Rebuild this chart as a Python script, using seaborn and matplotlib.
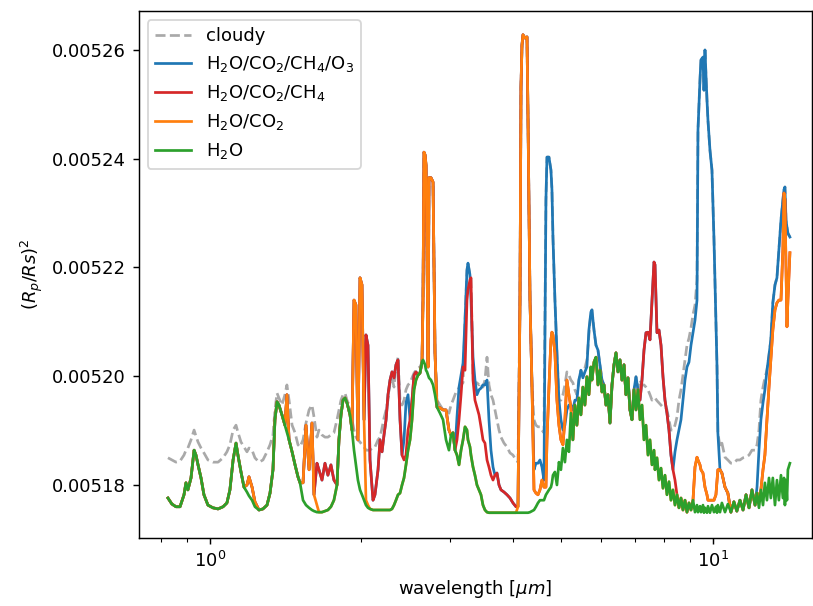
import numpy as np
import matplotlib
matplotlib.use("Agg")
import matplotlib.pyplot as plt
import seaborn as sns

# wavelength grid [micron]
wavelength = [
    0.826, 0.841, 0.857, 0.873, 0.889, 0.897, 0.905, 0.918, 0.931, 0.939,
    0.948, 0.961, 0.974, 0.992, 1.015, 1.039, 1.063, 1.082, 1.097, 1.113,
    1.128, 1.138, 1.154, 1.170, 1.186, 1.197, 1.214, 1.230, 1.253, 1.276,
    1.300, 1.318, 1.336, 1.348, 1.361, 1.373, 1.392, 1.411, 1.424, 1.438,
    1.458, 1.478, 1.498, 1.512, 1.533, 1.554, 1.576, 1.597, 1.612, 1.634,
    1.649, 1.672, 1.695, 1.718, 1.742, 1.766, 1.791, 1.807, 1.824, 1.841,
    1.858, 1.875, 1.901, 1.918, 1.936, 1.953, 1.971, 1.990, 2.008, 2.027,
    2.045, 2.064, 2.083, 2.112, 2.131, 2.161, 2.181, 2.201, 2.221, 2.242,
    2.262, 2.283, 2.304, 2.325, 2.346, 2.368, 2.390, 2.412, 2.434, 2.456,
    2.479, 2.502, 2.525, 2.548, 2.571, 2.595, 2.619, 2.643, 2.655, 2.667,
    2.680, 2.692, 2.704, 2.717, 2.729, 2.754, 2.780, 2.805, 2.831, 2.870,
    2.910, 2.950, 2.990, 3.018, 3.046, 3.074, 3.102, 3.131, 3.160, 3.189,
    3.218, 3.247, 3.262, 3.292, 3.307, 3.338, 3.368, 3.399, 3.431, 3.462,
    3.494, 3.526, 3.559, 3.591, 3.624, 3.658, 3.691, 3.725, 3.760, 3.794,
    3.847, 3.900, 3.954, 4.008, 4.064, 4.101, 4.139, 4.158, 4.177, 4.196,
    4.235, 4.274, 4.294, 4.333, 4.373, 4.413, 4.453, 4.494, 4.535, 4.577,
    4.619, 4.661, 4.683, 4.726, 4.769, 4.791, 4.813, 4.857, 4.902, 4.947,
    4.992, 5.038, 5.084, 5.131, 5.178, 5.225, 5.273, 5.322, 5.371, 5.420,
    5.470, 5.520, 5.571, 5.622, 5.674, 5.726, 5.754, 5.808, 5.861, 5.915,
    5.969, 6.024, 6.080, 6.136, 6.192, 6.249, 6.307, 6.365, 6.423, 6.482,
    6.542, 6.602, 6.663, 6.724, 6.786, 6.848, 6.911, 6.975, 7.039, 7.104,
    7.169, 7.235, 7.302, 7.369, 7.437, 7.505, 7.574, 7.644, 7.679, 7.749,
    7.821, 7.893, 7.965, 8.038, 8.112, 8.187, 8.262, 8.338, 8.415, 8.492,
    8.570, 8.649, 8.729, 8.809, 8.890, 8.972, 9.054, 9.138, 9.222, 9.307,
    9.349, 9.435, 9.478, 9.565, 9.609, 9.653, 9.742, 9.786, 9.876, 9.967,
    10.06, 10.15, 10.20, 10.24, 10.34, 10.43, 10.58, 10.72, 10.87, 11.02,
    11.17, 11.33, 11.49, 11.65, 11.81, 11.97, 12.14, 12.25, 12.36, 12.47,
    12.59, 12.70, 12.82, 12.94, 13.05, 13.17, 13.30, 13.42, 13.54, 13.67,
    13.79, 13.86, 13.92, 13.99, 14.05, 14.11, 14.24,
]

# transit depths in ppm, one list per model
cloudy = [
    5185.0, 5184.6, 5184.2, 5184.4, 5185.5, 5186.4, 5186.8, 5188.3, 5190.1, 5189.0,
    5187.9, 5186.8, 5185.9, 5184.6, 5184.2, 5184.2, 5185.0, 5186.1, 5187.4, 5190.1,
    5191.0, 5189.7, 5187.9, 5187.0, 5186.1, 5186.8, 5186.4, 5185.0, 5184.2, 5184.6,
    5186.1, 5187.4, 5189.2, 5193.8, 5196.9, 5196.0, 5194.7, 5196.6, 5198.4, 5195.6,
    5191.0, 5189.6, 5187.4, 5187.0, 5188.3, 5191.4, 5193.8, 5194.7, 5192.5, 5188.8,
    5190.1, 5189.2, 5188.8, 5188.8, 5189.2, 5189.6, 5192.0, 5193.8, 5195.6, 5196.6,
    5196.9, 5195.6, 5194.3, 5192.0, 5190.1, 5188.8, 5188.3, 5187.9, 5187.4, 5187.0,
    5186.4, 5186.4, 5186.4, 5187.0, 5187.0, 5188.3, 5188.8, 5190.5, 5192.3, 5193.8,
    5195.6, 5198.8, 5199.7, 5198.0, 5201.5, 5203.5, 5195.6, 5194.7, 5195.6, 5197.5,
    5198.4, 5198.8, 5199.7, 5200.6, 5201.1, 5201.5, 5201.7, 5202.6, 5214.0, 5241.2,
    5240.7, 5238.9, 5223.2, 5201.7, 5236.5, 5236.5, 5235.7, 5204.3, 5195.6, 5194.7,
    5193.8, 5193.4, 5193.2, 5194.7, 5195.6, 5196.6, 5197.5, 5197.8, 5198.4, 5198.8,
    5210.3, 5219.5, 5220.8, 5218.6, 5218.1, 5200.2, 5198.8, 5198.8, 5198.4, 5198.8,
    5198.0, 5199.3, 5203.5, 5198.4, 5196.6, 5195.6, 5193.8, 5192.0, 5190.1, 5188.8,
    5187.7, 5187.0, 5185.9, 5185.5, 5184.6, 5184.2, 5214.0, 5253.2, 5260.9, 5262.8,
    5262.2, 5262.4, 5247.1, 5214.0, 5198.0, 5192.0, 5191.0, 5190.7, 5190.7, 5190.1,
    5189.6, 5232.4, 5240.3, 5240.3, 5237.9, 5234.3, 5225.6, 5214.0, 5204.3, 5195.6,
    5195.6, 5196.6, 5198.4, 5200.8, 5200.2, 5199.3, 5198.8, 5197.5, 5196.6, 5199.3,
    5201.1, 5200.2, 5201.5, 5203.0, 5207.6, 5211.8, 5212.2, 5208.5, 5205.7, 5204.8,
    5202.0, 5199.3, 5198.4, 5194.7, 5196.6, 5191.4, 5198.4, 5202.1, 5204.3, 5200.8,
    5203.0, 5199.3, 5202.1, 5196.6, 5199.7, 5193.8, 5192.0, 5197.5, 5199.9, 5197.5,
    5199.3, 5198.4, 5198.4, 5198.0, 5197.5, 5196.6, 5195.6, 5196.0, 5196.0, 5195.5,
    5195.1, 5194.7, 5194.3, 5194.3, 5193.8, 5192.0, 5190.1, 5190.1, 5191.0, 5192.5,
    5195.6, 5197.5, 5200.2, 5203.0, 5205.7, 5207.0, 5208.9, 5211.3, 5213.1, 5217.7,
    5245.3, 5254.5, 5258.2, 5258.7, 5252.6, 5260.0, 5250.8, 5247.1, 5241.6, 5237.9,
    5225.1, 5210.3, 5201.7, 5189.6, 5187.0, 5187.7, 5185.1, 5184.6, 5184.0, 5184.0,
    5184.6, 5184.6, 5185.0, 5185.1, 5185.5, 5186.4, 5186.4, 5187.4, 5190.1, 5195.6,
    5198.0, 5199.7, 5201.1, 5203.9, 5206.7, 5213.5, 5216.8, 5218.1, 5223.2, 5228.7,
    5232.4, 5234.3, 5234.8, 5228.7, 5227.4, 5226.3, 5225.6,
]

h2o_co2_ch4_o3 = [
    5177.6, 5176.5, 5176.0, 5176.0, 5178.2, 5180.4, 5179.1, 5181.3, 5186.4, 5185.5,
    5183.7, 5181.3, 5178.2, 5176.3, 5175.8, 5175.6, 5176.0, 5176.7, 5179.1, 5184.6,
    5187.7, 5185.5, 5182.4, 5179.6, 5180.0, 5181.5, 5179.6, 5176.9, 5175.4, 5175.6,
    5176.3, 5178.5, 5182.8, 5192.0, 5195.3, 5194.7, 5192.9, 5191.0, 5196.6, 5188.3,
    5186.1, 5183.7, 5181.5, 5180.4, 5180.4, 5191.0, 5182.8, 5191.4, 5178.2, 5184.0,
    5182.8, 5180.9, 5184.0, 5181.8, 5183.7, 5180.9, 5180.0, 5188.3, 5192.9, 5195.6,
    5196.0, 5195.1, 5192.9, 5190.1, 5214.0, 5213.1, 5188.3, 5218.1, 5216.8, 5192.0,
    5207.6, 5205.7, 5184.6, 5177.2, 5178.2, 5182.8, 5188.3, 5186.1, 5189.2, 5192.0,
    5196.6, 5199.3, 5200.8, 5199.7, 5202.1, 5203.0, 5192.0, 5185.5, 5188.3, 5195.1,
    5196.6, 5192.0, 5195.6, 5200.2, 5200.8, 5200.2, 5200.6, 5202.6, 5214.0, 5241.2,
    5240.7, 5238.9, 5223.2, 5201.7, 5236.5, 5236.5, 5235.7, 5204.3, 5194.3, 5194.2,
    5193.8, 5193.8, 5190.1, 5189.2, 5189.6, 5186.4, 5192.5, 5198.0, 5200.2, 5202.4,
    5210.3, 5219.5, 5220.8, 5218.6, 5214.0, 5203.5, 5199.3, 5196.6, 5197.5, 5197.8,
    5198.4, 5198.4, 5199.3, 5192.0, 5186.4, 5183.3, 5181.8, 5182.2, 5180.0, 5179.1,
    5178.7, 5178.2, 5177.6, 5176.7, 5176.0, 5176.0, 5214.0, 5253.2, 5260.9, 5262.8,
    5262.2, 5262.4, 5247.1, 5214.0, 5198.0, 5182.8, 5184.0, 5184.0, 5184.6, 5183.3,
    5180.9, 5232.4, 5240.3, 5240.3, 5237.9, 5234.3, 5225.6, 5214.0, 5204.3, 5195.6,
    5192.0, 5190.1, 5191.0, 5193.8, 5194.7, 5194.7, 5193.8, 5195.6, 5195.6, 5199.3,
    5201.1, 5199.7, 5200.8, 5201.7, 5208.5, 5211.8, 5212.2, 5208.5, 5205.7, 5204.8,
    5202.0, 5199.3, 5198.4, 5194.7, 5196.6, 5191.4, 5198.4, 5202.1, 5204.3, 5200.8,
    5203.0, 5199.3, 5202.1, 5196.6, 5199.7, 5193.8, 5192.0, 5197.5, 5199.9, 5197.5,
    5195.6, 5199.3, 5204.8, 5208.0, 5208.1, 5206.7, 5214.0, 5221.0, 5220.5, 5208.0,
    5208.5, 5205.7, 5199.9, 5195.6, 5193.2, 5190.1, 5185.5, 5182.8, 5186.1, 5188.3,
    5190.1, 5192.0, 5195.6, 5199.3, 5201.7, 5202.6, 5205.7, 5208.0, 5210.3, 5214.0,
    5245.3, 5254.5, 5258.2, 5258.7, 5252.6, 5260.0, 5250.8, 5247.1, 5241.6, 5237.9,
    5225.1, 5210.3, 5201.7, 5189.6, 5182.8, 5182.2, 5179.6, 5178.5, 5175.0, 5176.9,
    5175.2, 5177.2, 5175.4, 5178.2, 5175.8, 5179.1, 5176.3, 5179.6, 5186.4, 5192.0,
    5195.1, 5197.5, 5201.1, 5203.9, 5206.7, 5213.5, 5216.8, 5218.1, 5223.2, 5228.7,
    5232.4, 5234.3, 5234.8, 5228.7, 5227.4, 5226.3, 5225.6,
]

h2o_co2_ch4 = [
    5177.6, 5176.5, 5176.0, 5176.0, 5178.2, 5180.4, 5179.1, 5181.3, 5186.4, 5185.5,
    5183.7, 5181.3, 5178.2, 5176.3, 5175.8, 5175.6, 5176.0, 5176.7, 5179.1, 5184.6,
    5187.7, 5185.5, 5182.4, 5179.6, 5180.0, 5181.5, 5179.6, 5176.9, 5175.4, 5175.6,
    5176.3, 5178.5, 5182.8, 5192.0, 5195.3, 5194.7, 5192.9, 5191.0, 5196.6, 5188.3,
    5186.1, 5183.7, 5181.5, 5180.4, 5180.4, 5191.0, 5182.8, 5191.4, 5178.2, 5184.0,
    5182.8, 5180.9, 5184.0, 5181.8, 5183.7, 5180.9, 5180.0, 5188.3, 5192.9, 5195.6,
    5196.0, 5195.1, 5192.9, 5190.1, 5214.0, 5213.1, 5188.3, 5218.1, 5216.8, 5192.0,
    5207.6, 5205.7, 5184.6, 5177.2, 5178.2, 5182.8, 5188.3, 5186.1, 5189.2, 5192.0,
    5196.6, 5199.3, 5200.8, 5199.7, 5202.1, 5203.0, 5192.0, 5185.5, 5184.6, 5185.5,
    5190.1, 5192.0, 5195.6, 5200.2, 5200.8, 5200.2, 5200.6, 5202.6, 5214.0, 5241.2,
    5240.7, 5238.9, 5223.2, 5201.7, 5236.5, 5236.5, 5235.7, 5204.3, 5194.3, 5194.2,
    5193.8, 5193.8, 5190.1, 5189.2, 5189.6, 5186.4, 5188.3, 5192.0, 5196.6, 5201.7,
    5201.1, 5214.0, 5215.9, 5217.7, 5218.1, 5199.3, 5195.6, 5194.3, 5192.9, 5190.7,
    5188.3, 5187.7, 5184.6, 5183.3, 5181.8, 5180.9, 5181.8, 5182.2, 5180.0, 5179.1,
    5178.7, 5178.2, 5177.6, 5176.7, 5176.0, 5176.0, 5214.0, 5253.2, 5260.9, 5262.8,
    5262.2, 5262.4, 5247.1, 5214.0, 5198.0, 5179.1, 5178.5, 5178.2, 5179.1, 5180.9,
    5179.6, 5179.6, 5188.3, 5198.0, 5206.7, 5208.1, 5207.6, 5204.3, 5195.6, 5191.0,
    5188.3, 5187.4, 5192.0, 5199.3, 5196.6, 5194.3, 5188.3, 5194.7, 5191.0, 5196.0,
    5192.9, 5198.0, 5194.7, 5199.9, 5196.6, 5201.7, 5199.3, 5202.6, 5203.5, 5198.4,
    5201.1, 5197.1, 5198.4, 5194.7, 5196.6, 5191.4, 5198.4, 5202.1, 5204.3, 5200.8,
    5203.0, 5199.3, 5202.1, 5196.6, 5199.7, 5193.8, 5192.0, 5197.5, 5193.8, 5197.5,
    5195.6, 5199.3, 5204.8, 5208.0, 5208.1, 5206.7, 5214.0, 5221.0, 5220.5, 5208.0,
    5208.5, 5205.7, 5199.9, 5195.6, 5193.2, 5190.1, 5185.5, 5182.8, 5180.9, 5178.2,
    5175.8, 5177.6, 5175.4, 5177.2, 5175.0, 5176.7, 5175.4, 5177.2, 5183.3, 5185.1,
    5184.6, 5183.7, 5182.8, 5182.2, 5180.9, 5179.6, 5178.2, 5177.2, 5177.2, 5177.2,
    5177.2, 5178.2, 5180.9, 5182.8, 5182.8, 5182.2, 5179.6, 5178.5, 5175.0, 5176.9,
    5175.2, 5177.2, 5175.4, 5178.2, 5175.8, 5179.1, 5176.3, 5178.5, 5177.8, 5179.1,
    5182.8, 5185.5, 5192.0, 5198.0, 5203.0, 5208.5, 5212.2, 5213.5, 5214.0, 5214.0,
    5223.2, 5233.7, 5232.4, 5219.5, 5209.1, 5214.0, 5222.7,
]

h2o_co2 = [
    5177.6, 5176.5, 5176.0, 5176.0, 5178.2, 5180.4, 5179.1, 5181.3, 5186.4, 5185.5,
    5183.7, 5181.3, 5178.2, 5176.3, 5175.8, 5175.6, 5176.0, 5176.7, 5179.1, 5184.6,
    5187.7, 5185.5, 5182.4, 5179.6, 5180.0, 5181.5, 5179.6, 5176.9, 5175.4, 5175.6,
    5176.3, 5178.5, 5182.8, 5192.0, 5195.3, 5194.7, 5192.9, 5191.0, 5196.6, 5188.3,
    5186.1, 5183.7, 5181.5, 5180.4, 5180.4, 5191.0, 5182.8, 5191.4, 5178.2, 5176.3,
    5175.0, 5175.0, 5175.2, 5175.4, 5176.0, 5177.2, 5180.0, 5188.3, 5192.9, 5195.6,
    5196.0, 5195.1, 5192.9, 5190.1, 5214.0, 5213.1, 5188.3, 5218.1, 5216.8, 5192.0,
    5177.2, 5176.3, 5175.6, 5175.4, 5175.4, 5175.4, 5175.4, 5175.4, 5175.4, 5175.4,
    5175.4, 5175.4, 5175.6, 5176.3, 5177.2, 5178.2, 5178.5, 5180.0, 5181.3, 5183.7,
    5186.4, 5188.3, 5192.0, 5197.5, 5199.3, 5200.2, 5200.6, 5202.6, 5214.0, 5241.2,
    5240.7, 5238.9, 5223.2, 5201.7, 5236.5, 5236.5, 5235.7, 5204.3, 5194.3, 5194.2,
    5193.8, 5193.8, 5190.1, 5189.2, 5189.6, 5186.4, 5185.5, 5183.7, 5186.4, 5188.3,
    5190.7, 5190.1, 5188.3, 5187.0, 5185.5, 5183.3, 5181.8, 5180.0, 5179.1, 5178.2,
    5176.3, 5175.4, 5175.0, 5174.9, 5174.9, 5174.9, 5174.9, 5174.9, 5174.9, 5174.9,
    5174.9, 5174.9, 5174.9, 5174.9, 5174.9, 5176.0, 5214.0, 5253.2, 5260.9, 5262.8,
    5262.2, 5262.4, 5247.1, 5214.0, 5198.0, 5179.1, 5178.5, 5178.2, 5179.1, 5180.9,
    5179.6, 5179.6, 5188.3, 5198.0, 5206.7, 5208.1, 5207.6, 5204.3, 5195.6, 5191.0,
    5188.3, 5187.4, 5192.0, 5199.3, 5196.6, 5194.3, 5188.3, 5194.7, 5191.0, 5196.0,
    5192.9, 5198.0, 5194.7, 5199.9, 5196.6, 5201.7, 5199.3, 5202.6, 5203.5, 5198.4,
    5201.1, 5197.1, 5198.4, 5194.7, 5196.6, 5191.4, 5198.4, 5202.1, 5204.3, 5200.8,
    5203.0, 5199.3, 5202.1, 5196.6, 5199.7, 5193.8, 5192.0, 5197.5, 5193.8, 5197.5,
    5192.0, 5194.7, 5188.3, 5191.0, 5185.5, 5188.3, 5183.7, 5186.4, 5182.8, 5185.0,
    5180.9, 5183.1, 5179.4, 5181.8, 5178.2, 5180.6, 5177.2, 5179.1, 5176.3, 5178.2,
    5175.8, 5177.6, 5175.4, 5177.2, 5175.0, 5176.7, 5175.4, 5177.2, 5183.3, 5185.1,
    5184.6, 5183.7, 5182.8, 5182.2, 5180.9, 5179.6, 5178.2, 5177.2, 5177.2, 5177.2,
    5177.2, 5178.2, 5180.9, 5182.8, 5182.8, 5182.2, 5179.6, 5178.5, 5175.0, 5176.9,
    5175.2, 5177.2, 5175.4, 5178.2, 5175.8, 5179.1, 5176.3, 5178.5, 5177.8, 5179.1,
    5182.8, 5185.5, 5192.0, 5198.0, 5203.0, 5208.5, 5212.2, 5213.5, 5214.0, 5214.0,
    5223.2, 5233.7, 5232.4, 5219.5, 5209.1, 5214.0, 5222.7,
]

h2o = [
    5177.6, 5176.5, 5176.0, 5176.0, 5178.2, 5180.4, 5179.1, 5181.3, 5186.4, 5185.5,
    5183.7, 5181.3, 5178.2, 5176.3, 5175.8, 5175.6, 5176.0, 5176.7, 5179.1, 5184.6,
    5187.7, 5185.5, 5182.4, 5179.6, 5178.7, 5178.0, 5177.2, 5176.0, 5175.4, 5175.6,
    5176.3, 5178.5, 5182.8, 5192.0, 5195.3, 5194.7, 5192.9, 5191.0, 5189.7, 5188.3,
    5186.1, 5183.7, 5181.5, 5180.4, 5177.2, 5176.3, 5175.8, 5175.4, 5175.2, 5175.0,
    5175.0, 5175.0, 5175.2, 5175.4, 5176.0, 5177.2, 5180.0, 5188.3, 5192.9, 5195.6,
    5196.0, 5195.1, 5192.9, 5190.1, 5186.4, 5183.7, 5180.9, 5179.1, 5178.2, 5177.2,
    5176.3, 5175.8, 5175.6, 5175.4, 5175.4, 5175.4, 5175.4, 5175.4, 5175.4, 5175.4,
    5175.4, 5175.4, 5175.6, 5176.3, 5177.2, 5178.2, 5178.5, 5180.0, 5181.3, 5183.7,
    5186.4, 5188.3, 5192.0, 5197.5, 5199.3, 5200.2, 5200.6, 5202.6, 5203.0, 5202.6,
    5202.1, 5201.1, 5200.8, 5200.2, 5199.7, 5199.3, 5198.4, 5196.6, 5194.3, 5193.2,
    5192.0, 5188.3, 5186.4, 5189.2, 5189.6, 5186.4, 5185.5, 5183.7, 5186.4, 5188.3,
    5190.7, 5190.1, 5188.3, 5187.0, 5185.5, 5183.3, 5181.8, 5180.0, 5179.1, 5178.2,
    5176.3, 5175.4, 5175.0, 5174.9, 5174.9, 5174.9, 5174.9, 5174.9, 5174.9, 5174.9,
    5174.9, 5174.9, 5174.9, 5174.9, 5174.9, 5174.9, 5174.9, 5174.9, 5174.9, 5174.9,
    5174.9, 5174.9, 5174.9, 5175.0, 5175.2, 5175.4, 5176.0, 5176.7, 5177.2, 5177.2,
    5177.2, 5178.2, 5178.5, 5179.1, 5179.6, 5180.4, 5181.8, 5182.4, 5180.0, 5184.2,
    5182.8, 5186.8, 5184.2, 5188.3, 5186.1, 5193.2, 5188.3, 5194.7, 5191.0, 5196.0,
    5192.9, 5198.0, 5194.7, 5199.9, 5196.6, 5201.7, 5199.3, 5202.6, 5203.5, 5198.4,
    5201.1, 5197.1, 5198.4, 5194.7, 5196.6, 5191.4, 5198.4, 5202.1, 5204.3, 5200.8,
    5203.0, 5199.3, 5202.1, 5196.6, 5199.7, 5193.8, 5192.0, 5197.5, 5193.8, 5197.5,
    5192.0, 5194.7, 5188.3, 5191.0, 5185.5, 5188.3, 5183.7, 5186.4, 5182.8, 5185.0,
    5180.9, 5183.1, 5179.4, 5181.8, 5178.2, 5180.6, 5177.2, 5179.1, 5176.3, 5178.2,
    5175.8, 5177.6, 5175.4, 5177.2, 5175.0, 5176.7, 5175.4, 5177.2, 5175.0, 5176.3,
    5175.0, 5176.1, 5175.0, 5176.3, 5174.9, 5175.8, 5174.9, 5176.1, 5174.9, 5176.3,
    5175.0, 5176.0, 5174.9, 5176.3, 5175.0, 5176.7, 5175.0, 5176.5, 5175.0, 5176.9,
    5175.2, 5177.2, 5175.4, 5178.2, 5175.8, 5179.1, 5176.3, 5178.5, 5175.8, 5179.1,
    5176.3, 5180.4, 5177.2, 5181.3, 5177.6, 5181.3, 5176.3, 5180.9, 5177.2, 5181.8,
    5177.6, 5181.3, 5176.3, 5180.9, 5177.2, 5182.8, 5184.0,
]

labels = ["cloudy", "H$_2$O/CO$_2$/CH$_4$/O$_3$", "H$_2$O/CO$_2$/CH$_4$",
          "H$_2$O/CO$_2$", "H$_2$O"]

fig = plt.figure(figsize=(813 / 130, 606 / 130), dpi=130)
ax = fig.add_axes([138.7 / 813, 1 - 538 / 606, (811.5 - 138.7) / 813, (538 - 11) / 606])

models = [
    (cloudy, "darkgray", "--"),
    (h2o_co2_ch4_o3, "tab:blue", "-"),
    (h2o_co2_ch4, "tab:red", "-"),
    (h2o_co2, "tab:orange", "-"),
    (h2o, "tab:green", "-"),
]
for (depth, col, ls), lab in zip(models, labels):
    sns.lineplot(x=wavelength, y=np.array(depth) * 1e-6, ax=ax, color=col,
                 linestyle=ls, linewidth=1.5, label=lab)

ax.set_xscale("log")
ax.set_xlim(0.7225, 15.72)
ax.set_ylim(0.00517025, 0.00526717)
ax.set_xlabel(r"wavelength [$\mu m$]")
ax.set_ylabel(r"$(R_p/Rs)^2$")
ax.legend(loc="upper left")

fig.savefig("out.png", dpi=130)
